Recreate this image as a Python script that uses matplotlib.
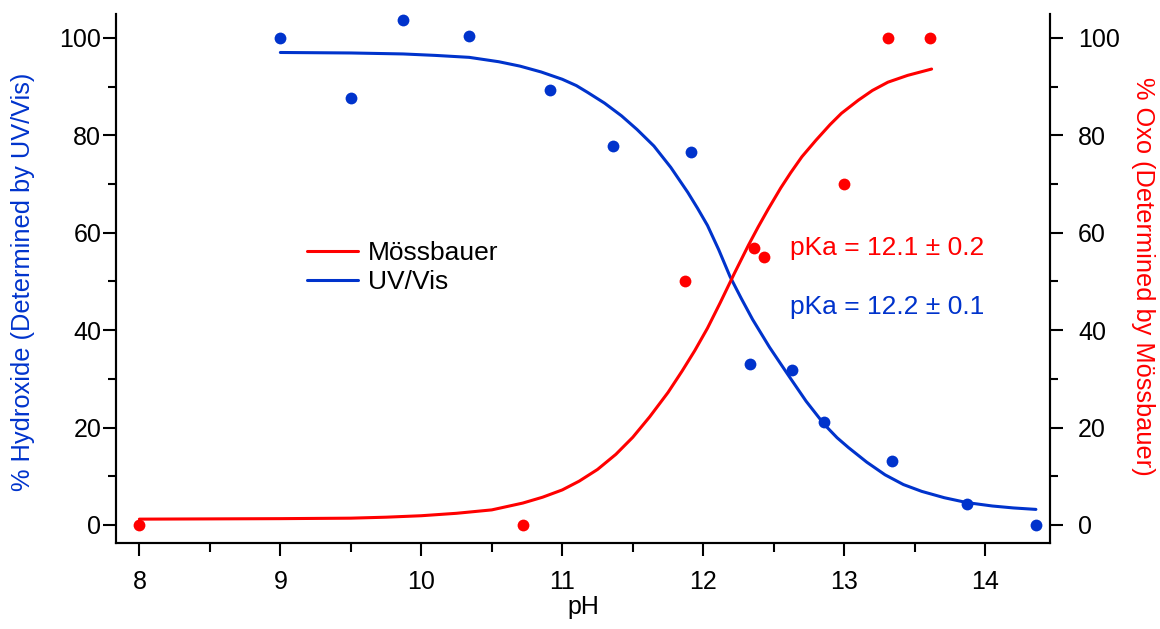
import matplotlib
matplotlib.use("Agg")
import matplotlib.pyplot as plt
from matplotlib.ticker import MultipleLocator

# ---- data ----
ph_uv = [9.00, 9.50, 9.87, 10.34, 10.91, 11.36, 11.91, 12.33, 12.63, 12.86, 13.34, 13.87, 14.36]
hydroxide_uv = [100.0, 87.6, 103.7, 100.4, 89.2, 77.8, 76.5, 33.1, 31.8, 21.1, 13.2, 4.3, 0.0]

ph_mb = [8.00, 10.72, 11.87, 12.36, 12.43, 13.00, 13.31, 13.61]
oxo_mb = [0.0, 0.0, 50.0, 56.9, 55.0, 70.0, 100.0, 100.0]

# fitted curves
ph_fit_uv = [9.00, 9.50, 9.87, 10.10, 10.34, 10.55, 10.70, 10.85, 11.00, 11.10, 11.18,
             11.30, 11.42, 11.53, 11.65, 11.77, 11.89, 11.96, 12.03, 12.11, 12.19, 12.27,
             12.35, 12.47, 12.60, 12.73, 12.86, 12.95, 13.03, 13.16, 13.29, 13.42, 13.55,
             13.71, 13.87, 14.05, 14.20, 14.36]
fit_uv = [97.0, 96.9, 96.7, 96.4, 96.0, 95.1, 94.2, 93.0, 91.5, 90.2, 88.8,
          86.6, 84.0, 81.2, 77.8, 73.4, 68.3, 65.0, 61.5, 56.5, 51.0, 46.5,
          42.2, 36.5, 30.9, 25.4, 20.6, 17.9, 15.9, 12.9, 10.3, 8.3, 6.9,
          5.6, 4.6, 3.9, 3.5, 3.2]

ph_fit_mb = [8.00, 8.50, 9.00, 9.50, 9.75, 10.00, 10.25, 10.50, 10.72, 10.86, 11.00,
             11.12, 11.25, 11.38, 11.50, 11.62, 11.75, 11.85, 11.94, 12.03, 12.12,
             12.22, 12.32, 12.39, 12.46, 12.55, 12.62, 12.70, 12.80, 12.90, 12.98,
             13.10, 13.20, 13.31, 13.45, 13.62]
fit_mb = [1.2, 1.25, 1.3, 1.4, 1.6, 1.9, 2.4, 3.1, 4.5, 5.7, 7.2,
          9.0, 11.4, 14.5, 18.0, 22.2, 27.2, 31.6, 35.8, 40.4, 45.6,
          51.6, 57.4, 61.2, 64.8, 69.2, 72.3, 75.6, 79.0, 82.2, 84.5,
          87.2, 89.2, 90.9, 92.3, 93.6]

x_ticks = [8, 9, 10, 11, 12, 13, 14]
y_ticks = [0, 20, 40, 60, 80, 100]

labels = ["Mössbauer", "UV/Vis"]
pka_texts = ["pKa = 12.1 ± 0.2", "pKa = 12.2 ± 0.1"]

BLUE = "#0033CC"
RED = "#FF0000"
FS = 18
FS_TXT = 19

plt.rcParams['font.family'] = ['Liberation Sans', 'DejaVu Sans']
plt.rcParams['font.size'] = FS

fig = plt.figure(figsize=(11.6, 6.29), dpi=100)
W, H = 1160, 629
left, right, bottom, top = 116, 1050, 543.3, 14
ax = fig.add_axes([left / W, 1 - bottom / H, (right - left) / W, (bottom - top) / H])
ax2 = ax.twinx()

for a in (ax, ax2):
    a.set_xlim(7.834, 14.46)
    a.set_ylim(-3.76, 104.9)
    a.spines['top'].set_visible(False)
    for s in a.spines.values():
        s.set_linewidth(1.5)
    a.set_facecolor('none')

ax.set_xticks(x_ticks)
ax.xaxis.set_minor_locator(MultipleLocator(0.5))
ax.set_yticks(y_ticks)
ax.yaxis.set_minor_locator(MultipleLocator(10))
ax2.set_yticks(y_ticks)
ax2.yaxis.set_minor_locator(MultipleLocator(10))

ax.tick_params(axis='x', which='major', direction='out', length=9.6, width=1.5, pad=9.5, labelsize=FS)
ax.tick_params(axis='x', which='minor', direction='out', length=6.8, width=1.5)
ax.tick_params(axis='y', which='major', direction='out', length=9.6, width=1.5, pad=1.0, labelsize=FS,
               left=True, right=False)
ax.tick_params(axis='y', which='minor', direction='out', length=5.5, width=1.5, left=True, right=False)
ax2.tick_params(axis='y', which='major', direction='out', length=9.6, width=1.5, pad=10.5, labelsize=FS)
ax2.tick_params(axis='y', which='minor', direction='out', length=5.5, width=1.5)

# fits
l_uv, = ax.plot(ph_fit_uv, fit_uv, color=BLUE, lw=2.2, solid_capstyle='round',
                solid_joinstyle='round', zorder=3)
l_mb, = ax2.plot(ph_fit_mb, fit_mb, color=RED, lw=2.2, solid_capstyle='round',
                 solid_joinstyle='round', zorder=3)
# data points
ax.plot(ph_uv, hydroxide_uv, 'o', color=BLUE, ms=8.5, mec='none', zorder=4, clip_on=False)
ax2.plot(ph_mb, oxo_mb, 'o', color=RED, ms=8.5, mec='none', zorder=4, clip_on=False)

# axis labels
ax.set_xlabel("pH", fontsize=FS, va='baseline')
ax.xaxis.set_label_coords(0.5, (bottom - 614) / (bottom - top))
ax.set_ylabel("% Hydroxide (Determined by UV/Vis)", color=BLUE, fontsize=18.3, va='center')
ax.yaxis.set_label_coords((23 - left) / (right - left), (bottom - 282) / (bottom - top))
ax2.set_ylabel("% Oxo (Determined by Mössbauer)", color=RED, fontsize=18.3, rotation=270, va='center')
ax2.yaxis.set_label_coords((1143 - left) / (right - left), (bottom - 276) / (bottom - top))

# pKa annotations
ax2.text(12.618, 55.4, pka_texts[0], color=RED, fontsize=FS_TXT, va='baseline', ha='left')
ax2.text(12.618, 43.3, pka_texts[1], color=BLUE, fontsize=FS_TXT, va='baseline', ha='left')

# legend
leg = ax2.legend([l_mb, l_uv], labels, loc='center left',
                 bbox_to_anchor=(306.7 / W, 1 - 267.8 / H), bbox_transform=fig.transFigure,
                 frameon=False, borderpad=0, borderaxespad=0, handlelength=1.95,
                 handletextpad=0.37, labelspacing=0.2, fontsize=FS_TXT)

fig.savefig("out.png", dpi=100)
